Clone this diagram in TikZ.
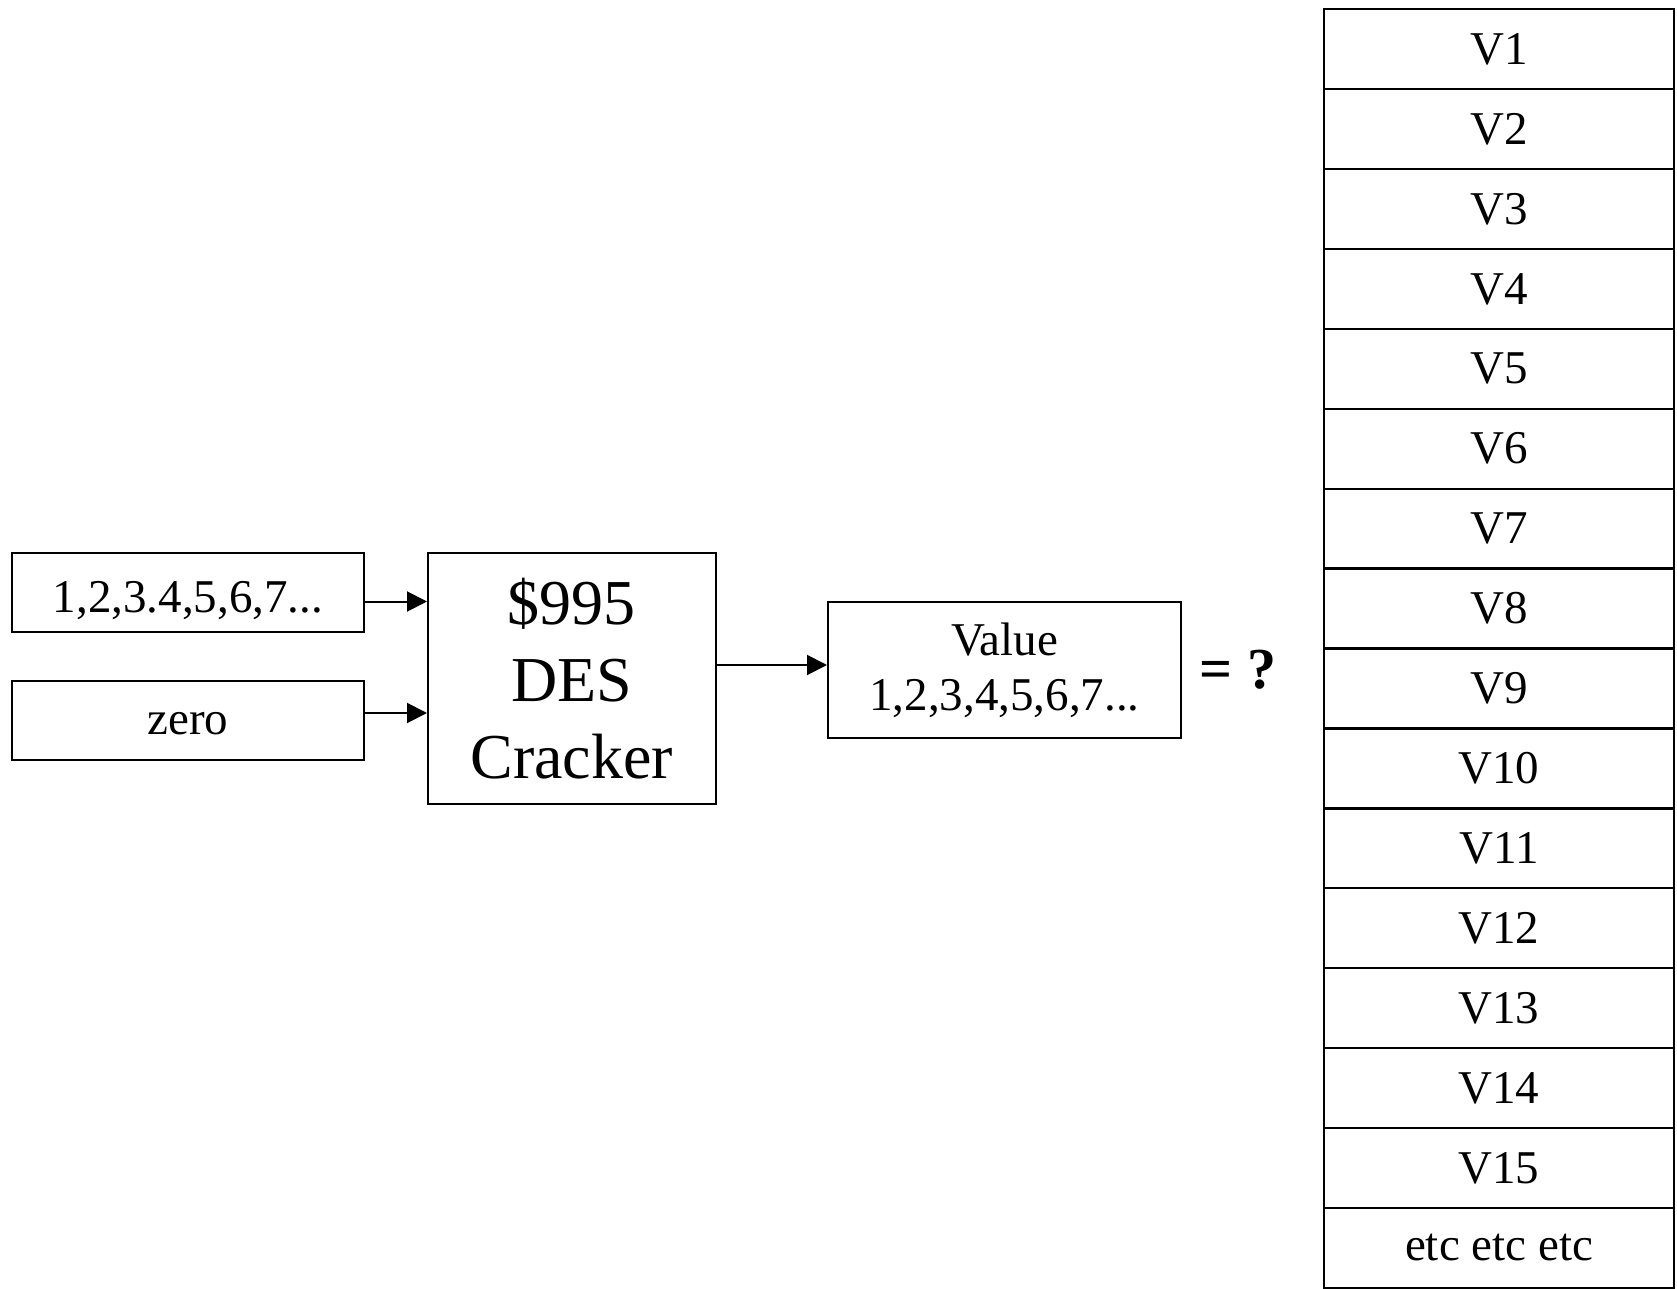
\documentclass[tikz,border=0pt]{standalone}
\usepackage{fontspec}
\setmainfont{Liberation Serif}
\usetikzlibrary{arrows.meta}
\begin{document}
\begin{tikzpicture}[x=0.5pt,y=-0.5pt,
  box/.style={draw,line width=1pt,inner sep=0pt,minimum width=176pt,minimum height=39.5pt,font=\fontsize{23.5}{27}\selectfont},
  cell/.style={draw,line width=1.2pt,inner sep=0pt,minimum width=175pt,minimum height=39.95pt,font=\fontsize{23.5}{27}\selectfont},
  arr/.style={line width=1pt,-{Triangle[length=10pt,width=10pt]}}]
\useasboundingbox (0,0) rectangle (1677,1289);
\node[box,text height=20pt,text depth=0pt] (in1) at (188,592.5) {1,2,3.4,5,6,7...};
\node[box,text height=14pt,text depth=0pt] (in2) at (188,720.5) {zero};
\node[box,minimum width=143.75pt,minimum height=125.5pt,align=center,font=\fontsize{32}{38.5}\selectfont] (des) at (571.75,678.5) {\$995\\DES\\Cracker};
\node[box,minimum width=176.5pt,minimum height=68pt,align=center,font=\fontsize{23.5}{27.5}\selectfont] (val) at (1004.5,670) {Value\\1,2,3,4,5,6,7...};
\node[anchor=base,font=\bfseries\fontsize{29}{34}\selectfont] (eq) at (1238,688) {= ?};
\draw[arr] ([yshift=-4.5pt]in1.east) -- ([yshift=-4.5pt]in1.east -| des.west);
\draw[arr] ([yshift=3.75pt]in2.east) -- ([yshift=3.75pt]in2.east -| des.west);
\draw[arr] ([yshift=6.75pt]des.east) -- ([yshift=6.75pt]des.east -| val.west);
\foreach \i/\t in {1/V1,2/V2,3/V3,4/V4,5/V5,6/V6,7/V7,8/V8,9/V9,10/V10,11/V11,12/V12,13/V13,14/V14,15/V15,16/etc etc etc}
  \node[cell] (r\i) at (1499,{9.3+79.9*(\i-0.5)}) {\t};
\end{tikzpicture}
\end{document}
